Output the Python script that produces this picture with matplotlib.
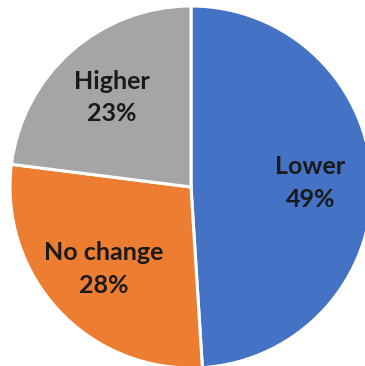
import matplotlib
matplotlib.use("Agg")
import matplotlib.pyplot as plt

labels = ["Lower", "No change", "Higher"]
shares = [49, 28, 23]
colors = ["#4472C4", "#ED7D31", "#A5A5A5"]

fig = plt.figure(figsize=(3.65, 3.66), dpi=100)
ax = fig.add_axes([0, 0, 1, 1])

def pct_label(val):
    i = min(range(len(shares)), key=lambda k: abs(shares[k] - val))
    return "%s\n%d%%" % (labels[i], round(val))

ax.pie(shares, colors=colors, startangle=90, counterclock=False,
       center=(191, 179), radius=181, frame=True,
       wedgeprops=dict(edgecolor="white", linewidth=2.2),
       autopct=pct_label, pctdistance=0.66,
       textprops=dict(color="#1a1a1a", fontsize=18,
                      fontweight="bold", family="Lato",
                      linespacing=1.5))
ax.set_xlim(0, 365)
ax.set_ylim(0, 366)
ax.set_aspect("equal")
ax.axis("off")

fig.savefig("out.png", dpi=100)
